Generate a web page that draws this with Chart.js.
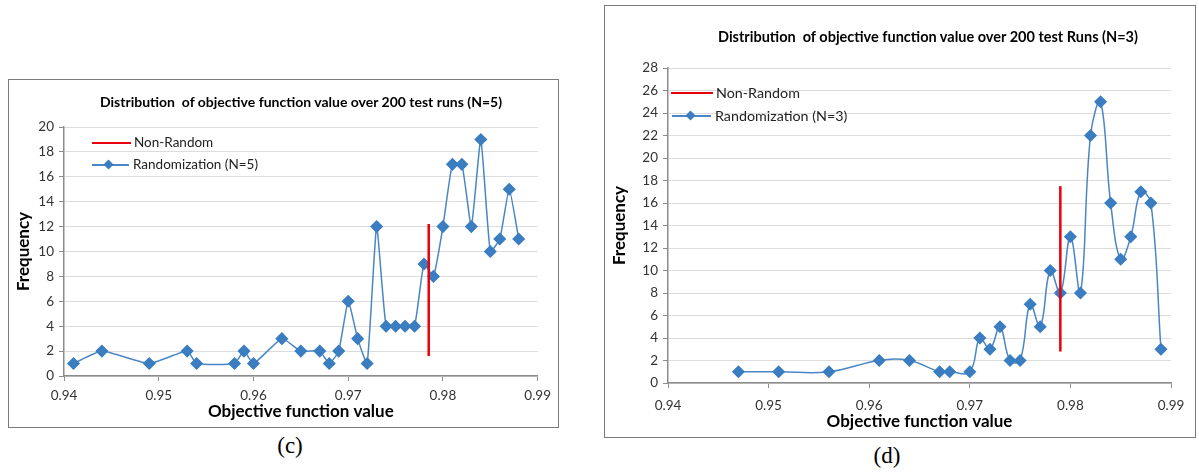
<!DOCTYPE html>
<html>
<head>
<meta charset="utf-8">
<script src="https://cdn.jsdelivr.net/npm/chart.js@4.4.1/dist/chart.umd.min.js"></script>
<style>
  html, body { margin:0; padding:0; background:#fff; width:1199px; height:474px; overflow:hidden; font-family: Lato, "Open Sans", sans-serif; }
  .box { position:absolute; border:1px solid #7a7a7a; background:#fff; box-sizing:border-box; }
  .box canvas { position:absolute; left:0; top:0; }
  .ctitle { position:absolute; font-weight:bold; font-size:14px; line-height:17px; color:#000; white-space:pre; transform:translateX(-50%); }
  .leg { position:absolute; font-size:13.5px; line-height:17px; color:#222; white-space:nowrap; }
  .lline { position:absolute; height:2px; }
  .dia { position:absolute; width:7px; height:7px; background:#3A7DC0; transform:rotate(45deg); }
  .cap { position:absolute; font-family:"Liberation Serif", serif; font-size:23px; color:#000; transform:translateX(-50%); }
</style>
</head>
<body>
<div class="box" id="boxC" style="left:8px; top:79px; width:551px; height:349px;"><canvas id="chartC" width="549" height="347"></canvas></div>
<div class="box" id="boxD" style="left:604px; top:5px; width:592px; height:433px;"><canvas id="chartD" width="590" height="431"></canvas></div>

<div class="ctitle" style="left:301px; top:93px;">Distribution  of objective function value over 200 test runs (N=5)</div>
<div class="ctitle" style="left:928px; top:28px; font-size:14.5px;">Distribution  of objective function value over 200 test Runs (N=3)</div>

<!-- legend (c) -->
<div class="lline" style="left:92px; top:142px; width:39px; background:#e8000b;"></div>
<div class="leg" style="left:134px; top:134px;">Non-Random</div>
<div class="lline" style="left:92px; top:164px; width:37px; height:1.5px; background:#4A86C5;"></div>
<div class="dia" style="left:105px; top:161px;"></div>
<div class="leg" style="left:133px; top:156px;">Randomization (N=5)</div>

<!-- legend (d) -->
<div class="lline" style="left:671px; top:92px; width:42px; background:#e8000b;"></div>
<div class="leg" style="left:716px; top:84px; font-size:14.3px;">Non-Random</div>
<div class="lline" style="left:672px; top:115px; width:39px; height:1.5px; background:#4A86C5;"></div>
<div class="dia" style="left:687px; top:112px;"></div>
<div class="leg" style="left:715px; top:107px; font-size:14.3px;">Randomization (N=3)</div>

<div class="cap" style="left:290px; top:433px;">(c)</div>
<div class="cap" style="left:887px; top:443px;">(d)</div>

<script>
// ---- data ----
const xTicks = [0.94, 0.95, 0.96, 0.97, 0.98, 0.99];

const cObj  = [0.941,0.944,0.949,0.953,0.954,0.958,0.959,0.960,0.963,0.965,0.967,0.968,0.969,0.970,0.971,0.972,0.973,0.974,0.975,0.976,0.977,0.978,0.979,0.980,0.981,0.982,0.983,0.984,0.985,0.986,0.987,0.988];
const cFreq = [1,2,1,2,1,1,2,1,3,2,2,1,2,6,3,1,12,4,4,4,4,9,8,12,17,17,12,19,10,11,15,11];
const cNonRandomX = [0.9785, 0.9785];
const cNonRandomY = [1.6, 12.2];
const cYTicks = [0,2,4,6,8,10,12,14,16,18,20];

const dObj  = [0.947,0.951,0.956,0.961,0.964,0.967,0.968,0.970,0.971,0.972,0.973,0.974,0.975,0.976,0.977,0.978,0.979,0.980,0.981,0.982,0.983,0.984,0.985,0.986,0.987,0.988,0.989];
const dFreq = [1,1,1,2,2,1,1,1,4,3,5,2,2,7,5,10,8,13,8,22,25,16,11,13,17,16,3];
const dNonRandomX = [0.979, 0.979];
const dNonRandomY = [2.8, 17.5];
const dYTicks = [0,2,4,6,8,10,12,14,16,18,20,22,24,26,28];

const zip = (xs, ys) => xs.map((x, i) => ({x: x, y: ys[i]}));

function makeChart(id, obj, freq, nrx, nry, yTicks, geo, tension) {
  const ctx = document.getElementById(id);
  return new Chart(ctx, {
    type: 'line',
    data: {
      datasets: [
        {
          label: 'Non-Random',
          data: zip(nrx, nry),
          borderColor: '#e8000b',
          borderWidth: 2.5,
          pointRadius: 0,
          order: 0
        },
        {
          label: 'Randomization',
          data: zip(obj, freq),
          borderColor: '#4A86C5',
          borderWidth: 1.5,
          pointStyle: 'rectRot',
          pointRadius: 5.5,
          pointBackgroundColor: '#3A7DC0',
          pointBorderColor: '#3A7DC0',
          tension: tension,
          order: 1
        }
      ]
    },
    options: {
      responsive: false,
      animation: false,
      devicePixelRatio: 1,
      layout: { padding: { left: 0, right: geo.right, top: geo.top, bottom: 0 } },
      plugins: { legend: { display: false }, title: { display: false }, tooltip: { enabled: false } },
      scales: {
        x: {
          type: 'linear',
          min: xTicks[0], max: xTicks[xTicks.length - 1],
          afterBuildTicks: s => { s.ticks = xTicks.map(v => ({ value: v })); },
          afterFit: s => { s.height = geo.xh; },
          ticks: {
            callback: v => v.toFixed(2),
            font: { family: 'Lato', size: 13.5 },
            color: '#333',
            padding: geo.xpad,
            maxRotation: 0
          },
          grid: { display: true, drawOnChartArea: false, tickLength: 5, tickColor: '#8c8c8c', tickWidth: 1 },
          border: { color: '#8c8c8c', width: 1.5 },
          title: {
            display: true,
            text: 'Objective function value',
            font: { family: 'Lato', size: 17, weight: 'bold' },
            color: '#000',
            padding: { top: 0, bottom: 5 }
          }
        },
        y: {
          min: 0, max: yTicks[yTicks.length - 1],
          afterBuildTicks: s => { s.ticks = yTicks.map(v => ({ value: v })); },
          afterFit: s => { s.width = geo.yw; },
          ticks: {
            font: { family: 'Lato', size: 13.5 },
            color: '#333',
            padding: 5
          },
          grid: { color: '#dcdcdc', lineWidth: 1, tickLength: 5, tickColor: '#8c8c8c' },
          border: { color: '#8c8c8c', width: 1.5 },
          title: {
            display: true,
            text: 'Frequency',
            font: { family: 'Lato', size: 17, weight: 'bold' },
            color: '#000',
            padding: { top: 4, bottom: 0 }
          }
        }
      }
    }
  });
}

makeChart('chartC', cObj, cFreq, cNonRandomX, cNonRandomY, cYTicks, { right: 19, top: 47, xh: 51, yw: 55, xpad: 7 }, 0.15);
makeChart('chartD', dObj, dFreq, dNonRandomX, dNonRandomY, dYTicks, { right: 24, top: 62, xh: 54, yw: 63, xpad: 10 }, 0.4);
</script>
</body>
</html>
